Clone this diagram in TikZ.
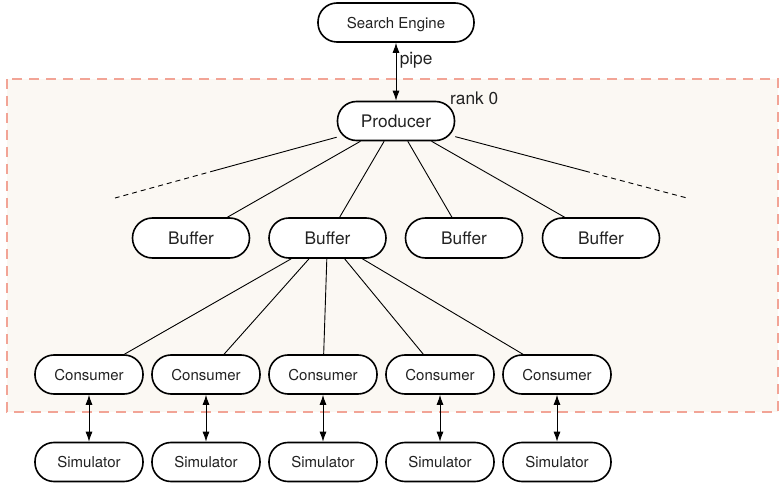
\documentclass[tikz,border=0pt]{standalone}
\usepackage{fontspec}
\setmainfont{TeX Gyre Heros}
\usetikzlibrary{shapes,arrows.meta,positioning,calc}
\definecolor{rankfill}{HTML}{FBF8F3}
\definecolor{rankline}{HTML}{F2A496}
\definecolor{ink}{HTML}{222222}

\begin{document}
\begin{tikzpicture}[x=1pt,y=-1pt,
    box/.style={draw=black, line width=1.6pt, fill=white, rounded corners=19pt,
        minimum height=39pt, inner sep=0pt, text depth=0pt, text=ink},
    bigbox/.style={box, minimum width=117pt, font=\fontsize{17.3}{20}\selectfont},
    smallbox/.style={box, minimum width=108pt, font=\fontsize{15}{18}\selectfont},
    link/.style={line width=0.9pt},
    twoway/.style={link, {Latex[length=10pt,width=7pt]}-{Latex[length=10pt,width=7pt]}}]
    \useasboundingbox (0,0) rectangle (780,484);

    % rank 0 region
    \draw[rankline, line width=2pt, dash pattern=on 10pt off 7pt, fill=rankfill] (7,79) rectangle (778,412);
    \node[anchor=west, inner sep=0pt, text=ink, font=\fontsize{17.3}{20}\selectfont] (rank) at (450,98) {rank 0};

    % Search engine and producer
    \node[smallbox, minimum width=156pt] (engine) at (396,22.5) {Search Engine};
    \node[bigbox] (producer) at (396,121) {Producer};
    \draw[twoway] (engine) -- (producer)
        node[pos=0.3, anchor=west, text=ink, font=\fontsize{17.3}{20}\selectfont] (pipe) {pipe};

    % Buffers
    \foreach \x [count=\i] in {191,327.5,464,601} {
        \node[bigbox, minimum height=40pt, rounded corners=20pt] (buf\i) at (\x,238) {Buffer};
        \draw[link] (producer) -- (buf\i);
    }

    % more buffers (dashed)
    \coordinate (lmid) at (215,170.5);
    \coordinate (lend) at (115,198);
    \coordinate (rmid) at (585,171);
    \coordinate (rend) at (687,198);
    \draw[link] (producer) -- (lmid);
    \draw[link, dash pattern=on 5pt off 4pt] (lmid) -- (lend);
    \draw[link] (producer) -- (rmid);
    \draw[link, dash pattern=on 5pt off 4pt] (rmid) -- (rend);

    % Consumers and simulators
    \foreach \x [count=\i] in {89,206,323,440,557} {
        \node[smallbox] (con\i) at (\x,374.5) {Consumer};
        \node[smallbox] (sim\i) at (\x,462) {Simulator};
        \draw[link] (buf2) -- (con\i);
        \draw[twoway] (con\i) -- (sim\i);
    }
\end{tikzpicture}
\end{document}
